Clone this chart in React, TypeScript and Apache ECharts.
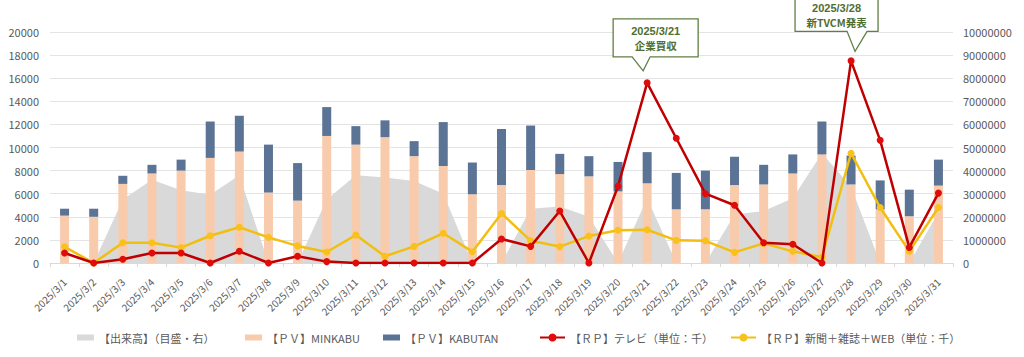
import React, { useEffect, useRef } from "react";
import * as echarts from "echarts";

const categories = [
  "2025/3/1", "2025/3/2", "2025/3/3", "2025/3/4", "2025/3/5", "2025/3/6", "2025/3/7", "2025/3/8",
  "2025/3/9", "2025/3/10", "2025/3/11", "2025/3/12", "2025/3/13", "2025/3/14", "2025/3/15", "2025/3/16",
  "2025/3/17", "2025/3/18", "2025/3/19", "2025/3/20", "2025/3/21", "2025/3/22", "2025/3/23", "2025/3/24",
  "2025/3/25", "2025/3/26", "2025/3/27", "2025/3/28", "2025/3/29", "2025/3/30", "2025/3/31",
];

// 【出来高】 (right axis)
const volume = [
  0, 0, 2750000, 3600000, 3150000, 2950000, 3800000, 0, 0, 2750000, 3800000, 3700000, 3550000, 3000000, 0, 0,
  2350000, 2450000, 2000000, 0, 2800000, 0, 0, 2100000, 2250000, 2800000, 4750000, 3300000, 0, 0, 2200000,
];

// 【PV】MINKABU
const minkabu = [
  4100, 4000, 6850, 7750, 8000, 9100, 9650, 6100, 5400, 11000, 10250, 10900, 9250, 8400, 5950, 6750,
  8050, 7700, 7500, 6200, 6900, 4650, 4650, 6750, 6800, 7750, 9400, 6800, 4650, 4050, 6700,
];

// 【PV】KABUTAN
const kabutan = [
  600, 700, 700, 750, 950, 3150, 3100, 4150, 3250, 2500, 1600, 1450, 1300, 3800, 2750, 4850,
  3850, 1750, 1750, 2550, 2700, 3150, 3350, 2450, 1700, 1650, 2850, 2500, 2500, 2300, 2250,
];

// 【RP】テレビ
const tv = [
  870, 0, 330, 870, 870, 0, 1010, 0, 580, 120, 0, 0, 0, 0, 0, 2080,
  1440, 4500, 0, 6650, 15600, 10800, 6000, 5000, 1750, 1620, 0, 17500, 10620, 1350, 6050,
];

// 【RP】新聞+雑誌+WEB
const press = [
  1400, 0, 1750, 1750, 1330, 2360, 3100, 2220, 1480, 950, 2420, 580, 1440, 2570, 980, 4290,
  1930, 1420, 2330, 2830, 2880, 1960, 1920, 920, 1700, 1010, 500, 9500, 4800, 1010, 4800,
];

const leftTicks = { min: 0, max: 20000, interval: 2000 };
const rightTicks = { min: 0, max: 10000000, interval: 1000000 };

const seriesNames = [
  "【出来高】（目盛・右）",
  "【ＰＶ】MINKABU",
  "【ＰＶ】KABUTAN",
  "【ＲＰ】テレビ（単位：千）",
  "【ＲＰ】新聞＋雑誌＋WEB（単位：千）",
];

const events = [
  { index: 20, date: "2025/3/21", note: "企業買収" },
  { index: 27, date: "2025/3/28", note: "新TVCM発表" },
];

const FONT = "'Noto Sans CJK JP', 'Noto Sans', sans-serif";
const TEXT = "#595959";

export default function App() {
  const ref = useRef<HTMLDivElement>(null);

  useEffect(() => {
    if (!ref.current) return;
    const chart = echarts.init(ref.current, undefined, { renderer: "svg" });

    const legendText = { color: TEXT, fontSize: 11, fontFamily: FONT };
    const legendBase = { top: 327, textStyle: legendText, selectedMode: false };

    chart.setOption({
      animation: false,
      backgroundColor: "#ffffff",
      textStyle: { fontFamily: FONT },
      grid: { left: 50, right: 71, top: 32, bottom: 94, containLabel: false },
      legend: [
        {
          ...legendBase, left: 72, itemWidth: 17, itemHeight: 6,
          data: [{ name: seriesNames[0], icon: "rect", itemStyle: { color: "#D9D9D9" } }],
        },
        { ...legendBase, left: 240, itemWidth: 17, itemHeight: 6, data: [{ name: seriesNames[1], icon: "rect" }] },
        { ...legendBase, left: 378, itemWidth: 17, itemHeight: 6, data: [{ name: seriesNames[2], icon: "rect" }] },
        { ...legendBase, left: 534, itemWidth: 25, itemHeight: 10, data: [seriesNames[3]] },
        { ...legendBase, left: 725, itemWidth: 25, itemHeight: 10, data: [seriesNames[4]] },
      ],
      xAxis: {
        type: "category",
        data: categories,
        boundaryGap: true,
        axisLine: { show: true, lineStyle: { color: "#D9D9D9", width: 1 } },
        axisTick: { show: true, length: 4, lineStyle: { color: "#D9D9D9" } },
        axisLabel: { interval: 0, rotate: 45, fontSize: 10, color: TEXT, margin: 17, fontFamily: FONT },
      },
      yAxis: [
        {
          type: "value",
          ...leftTicks,
          axisLine: { show: false },
          axisTick: { show: false },
          axisLabel: { fontSize: 11, color: TEXT, margin: 11, fontFamily: FONT, formatter: (v: number) => String(v) },
          splitLine: { lineStyle: { color: "#E4E4E4", width: 1 } },
        },
        {
          type: "value",
          ...rightTicks,
          position: "right",
          axisLine: { show: false },
          axisTick: { show: false },
          axisLabel: { fontSize: 11, color: TEXT, margin: 10, fontFamily: FONT, formatter: (v: number) => String(v) },
          splitLine: { show: false },
        },
      ],
      series: [
        {
          name: seriesNames[0],
          type: "line",
          yAxisIndex: 1,
          data: volume,
          symbol: "none",
          lineStyle: { width: 0, color: "#D9D9D9" },
          itemStyle: { color: "#D9D9D9" },
          areaStyle: { color: "#D9D9D9", opacity: 1 },
          z: 1,
        },
        {
          name: seriesNames[1],
          type: "bar",
          stack: "pv",
          data: minkabu,
          barWidth: 9,
          itemStyle: { color: "#F8CBAD" },
          z: 2,
        },
        {
          name: seriesNames[2],
          type: "bar",
          stack: "pv",
          data: kabutan,
          barWidth: 9,
          itemStyle: { color: "#5B7395" },
          z: 2,
        },
        {
          name: seriesNames[3],
          type: "line",
          data: tv,
          symbol: "circle",
          symbolSize: 7,
          lineStyle: { width: 2.5, color: "#C00000" },
          itemStyle: { color: "#E00B0B" },
          z: 4,
        },
        {
          name: seriesNames[4],
          type: "line",
          data: press,
          symbol: "circle",
          symbolSize: 7,
          lineStyle: { width: 2.5, color: "#F2BE0F" },
          itemStyle: { color: "#F7C21C" },
          z: 3,
        },
      ],
    });

    // Callouts anchored to the TV series points
    const green = "#617F43";
    const textGreen = "#4F6E30";
    const elements: any[] = [];
    const shapes = [
      { l: -34, r: 51, t: -64, b: -26, bl: -15, br: 3, tx: -4, ty: -12 },
      { l: -56, r: 27, t: -62.5, b: -29.5, bl: -4, br: 16, tx: 4, ty: -9.5 },
    ];
    events.forEach((ev, i) => {
      const p = chart.convertToPixel({ xAxisIndex: 0, yAxisIndex: 0 }, [categories[ev.index], tv[ev.index]]) as number[];
      const s = shapes[i];
      const x = p[0];
      const y = p[1];
      elements.push({
        type: "polygon",
        shape: {
          points: [
            [x + s.l, y + s.t],
            [x + s.r, y + s.t],
            [x + s.r, y + s.b],
            [x + s.br, y + s.b],
            [x + s.tx, y + s.ty],
            [x + s.bl, y + s.b],
            [x + s.l, y + s.b],
          ],
        },
        style: { fill: "#ffffff", stroke: green, lineWidth: 1.3 },
        z: 100,
      });
      const cx = x + (s.l + s.r) / 2;
      const cy = y + (s.t + s.b) / 2;
      elements.push({
        type: "text",
        x: cx,
        y: cy - 7,
        style: {
          text: ev.date,
          fill: textGreen,
          font: "bold 11px 'Liberation Sans', Arial, sans-serif",
          align: "center",
          verticalAlign: "middle",
        },
        z: 101,
      });
      elements.push({
        type: "text",
        x: cx,
        y: cy + 7.5,
        style: {
          text: ev.note,
          fill: textGreen,
          font: `bold 10.5px ${FONT}`,
          align: "center",
          verticalAlign: "middle",
        },
        z: 101,
      });
    });
    chart.setOption({ graphic: { elements } });

    return () => chart.dispose();
  }, []);

  return (
    <div
      ref={ref}
      style={{ position: "fixed", left: 0, top: 0, width: 1024, height: 357, background: "#fff" }}
    />
  );
}
